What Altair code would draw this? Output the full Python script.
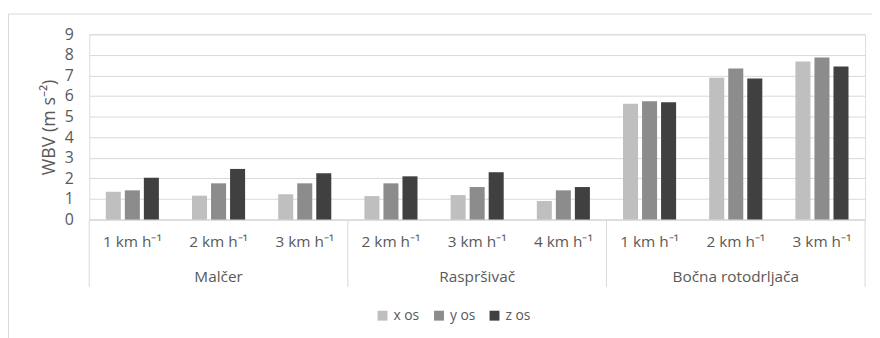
import altair as alt
import pandas as pd

groups = ["Malčer", "Malčer", "Malčer",
          "Raspršivač", "Raspršivač", "Raspršivač",
          "Bočna rotodrljača", "Bočna rotodrljača", "Bočna rotodrljača"]
speeds = ["1 km h⁻¹", "2 km h⁻¹", "3 km h⁻¹",
          "2 km h⁻¹", "3 km h⁻¹", "4 km h⁻¹",
          "1 km h⁻¹", "2 km h⁻¹", "3 km h⁻¹"]
series = ["x os", "y os", "z os"]
x_os = [1.35, 1.16, 1.23, 1.14, 1.19, 0.90, 5.62, 6.89, 7.68]
y_os = [1.42, 1.76, 1.76, 1.76, 1.58, 1.42, 5.75, 7.34, 7.87]
z_os = [2.03, 2.46, 2.25, 2.10, 2.30, 1.58, 5.70, 6.85, 7.44]
colors = ["#bfbfbf", "#8c8c8c", "#404040"]

keys = [f"{g}|{s}" for g, s in zip(groups, speeds)]
rows = []
for i, k in enumerate(keys):
    for name, vals in zip(series, [x_os, y_os, z_os]):
        rows.append({"key": k, "group": groups[i], "series": name, "value": vals[i]})
df = pd.DataFrame(rows)

group_names = ["Malčer", "Raspršivač", "Bočna rotodrljača"]
first_keys = [keys[0], keys[3], keys[6]]
mid_keys = [keys[1], keys[4], keys[7]]
df_start = pd.DataFrame({"key": first_keys})
df_end = pd.DataFrame({"key": [keys[-1]]})
df_lab = pd.DataFrame({"key": mid_keys, "label": group_names})

W, H = 783, 187
FONT = "Open Sans"
TXT = "#595959"

xscale = alt.Scale(domain=keys, paddingInner=0, paddingOuter=0)

bars = alt.Chart(df).mark_bar().encode(
    x=alt.X("key:N", sort=keys, scale=xscale, title=None,
            axis=alt.Axis(labelExpr="split(datum.label, '|')[1]", labelAngle=0,
                          labelFont=FONT, labelFontSize=15.5, labelColor=TXT,
                          labelPadding=15, ticks=False, domainColor="#d9d9d9",
                          grid=False)),
    xOffset=alt.XOffset("series:N", sort=series,
                        scale=alt.Scale(paddingInner=0.21, paddingOuter=0.87)),
    y=alt.Y("value:Q", scale=alt.Scale(domain=[0, 9], nice=False),
            title="WBV (m s⁻²)",
            axis=alt.Axis(values=list(range(10)), labelFont=FONT, labelFontSize=16,
                          labelColor=TXT, labelPadding=16, ticks=False, domain=False,
                          gridColor="#d9d9d9", titleFont=FONT, titleFontSize=18,
                          titleFontWeight="normal", titleColor=TXT, titlePadding=6)),
    color=alt.Color("series:N", sort=series,
                    scale=alt.Scale(domain=series, range=colors),
                    legend=alt.Legend(title=None, orient="none", direction="horizontal",
                                      legendX=289, legendY=277, symbolType="square",
                                      symbolSize=100, symbolStrokeWidth=0,
                                      labelFont=FONT, labelFontSize=14, labelColor=TXT,
                                      columnPadding=12, labelOffset=4)),
)

sep_start = alt.Chart(df_start).mark_rule(color="#d9d9d9", strokeWidth=1).encode(
    x=alt.X("key:N", sort=keys, scale=xscale, bandPosition=0),
    y=alt.value(H), y2=alt.value(H + 68),
)
sep_end = alt.Chart(df_end).mark_rule(color="#d9d9d9", strokeWidth=1).encode(
    x=alt.X("key:N", sort=keys, scale=xscale, bandPosition=1),
    y=alt.value(H), y2=alt.value(H + 68),
)
glabels = alt.Chart(df_lab).mark_text(font=FONT, fontSize=15.5, color=TXT,
                                      baseline="middle").encode(
    x=alt.X("key:N", sort=keys, scale=xscale, bandPosition=0.5),
    y=alt.value(H + 58),
    text="label:N",
)
border = alt.Chart(df_end).mark_rect(fill=None, stroke="#d9d9d9", strokeWidth=1).encode(
    x=alt.value(-81.5), x2=alt.value(W + 40), y=alt.value(-20.5), y2=alt.value(H + 200),
)

chart = alt.layer(border, bars, sep_start, sep_end, glabels).properties(
    width=W, height=H,
    autosize=alt.AutoSizeParams(type="none"),
    padding={"left": 82, "top": 25, "right": 7, "bottom": 118},
).configure_view(stroke=None).configure(background="white")

chart.save("out.html", embed_options={"renderer": "svg", "actions": False})
